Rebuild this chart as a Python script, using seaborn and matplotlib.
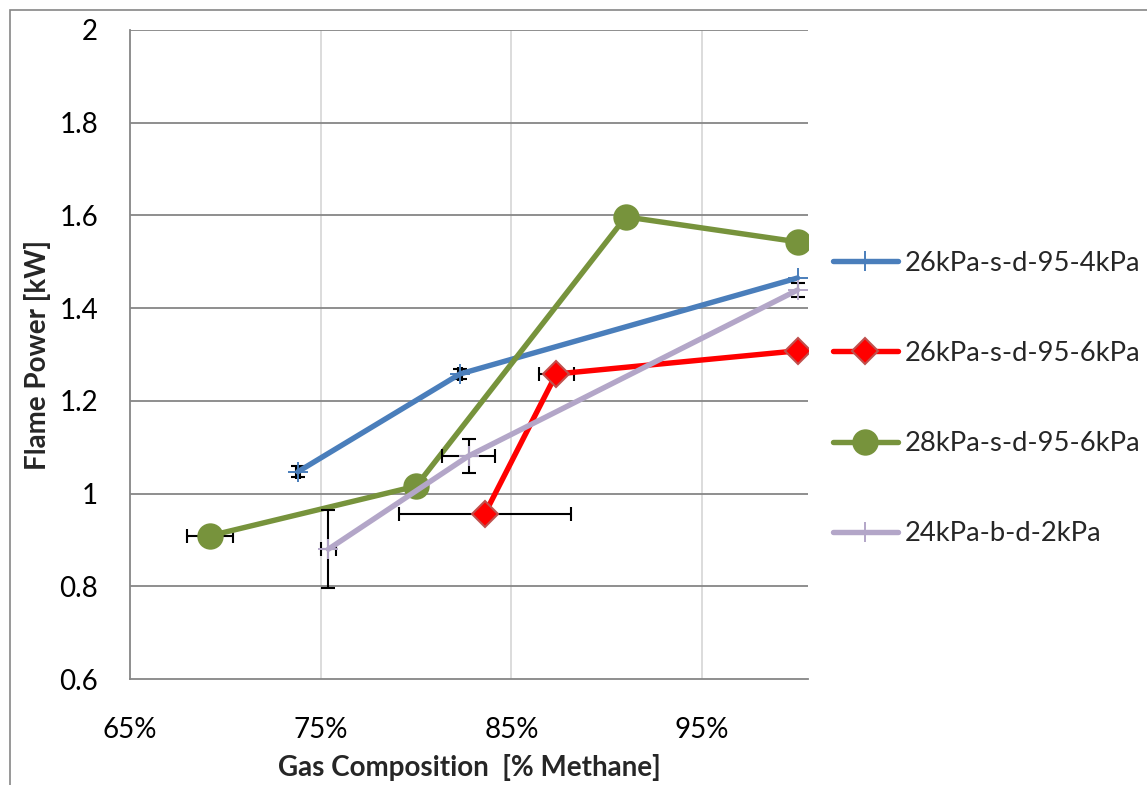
import numpy as np
import pandas as pd
import matplotlib
matplotlib.use("Agg")
import matplotlib.pyplot as plt
from matplotlib.patches import Rectangle
from matplotlib.ticker import FuncFormatter
import seaborn as sns

# ---- data ----
blue_x = [0.738, 0.823, 1.000]
blue_y = [1.047, 1.258, 1.465]
blue_xerr = [0.001, 0.001, 0.0]
blue_yerr = [0.012, 0.010, 0.0]

red_x = [0.836, 0.8735, 1.000]
red_y = [0.956, 1.258, 1.308]
red_xerr = [0.045, 0.0093, 0.0]
red_yerr = [0.0, 0.0, 0.0]

green_x = [0.692, 0.800, 0.910, 1.000]
green_y = [0.909, 1.016, 1.597, 1.543]
green_xerr = [0.012, 0.0, 0.0, 0.0]
green_yerr = [0.0, 0.0, 0.0, 0.0]

lav_x = [0.754, 0.8275, 1.000]
lav_y = [0.880, 1.081, 1.439]
lav_xerr = [0.004, 0.0137, 0.0]
lav_yerr = [0.084, 0.036, 0.015]

labels = ["26kPa-s-d-95-4kPa", "26kPa-s-d-95-6kPa", "28kPa-s-d-95-6kPa", "24kPa-b-d-2kPa"]
x_ticks = [0.65, 0.75, 0.85, 0.95]
y_ticks = [0.6, 0.8, 1.0, 1.2, 1.4, 1.6, 1.8, 2.0]

sns.set_theme(style="white")
plt.rcParams["font.family"] = ["Lato", "DejaVu Sans"]

fig = plt.figure(figsize=(11.47, 7.85), dpi=100)
ax = fig.add_axes([130/1147, 1-679/785, 678/1147, 649/785])

series = [
    (blue_x, blue_y, blue_xerr, blue_yerr, "#4A7EBB", dict(marker="+", markersize=14, markeredgewidth=1.4, markeredgecolor="#4A7EBB")),
    (red_x, red_y, red_xerr, red_yerr, "#FF0000", dict(marker="D", markersize=13, markeredgewidth=1.5, markeredgecolor="#C0504D", markerfacecolor="#FF0000")),
    (green_x, green_y, green_xerr, green_yerr, "#77933C", dict(marker="o", markersize=19, markeredgewidth=0, markerfacecolor="#77933C")),
    (lav_x, lav_y, lav_xerr, lav_yerr, "#B3A6C8", dict(marker="+", markersize=14, markeredgewidth=1.4, markeredgecolor="#B3A6C8")),
]

for i, (xs, ys, xe, ye, col, mk) in enumerate(series):
    df = pd.DataFrame({"x": xs, "y": ys})
    sns.lineplot(data=df, x="x", y="y", sort=False, ax=ax, color=col,
                 linewidth=3.9, label=labels[i], zorder=3 + i * 0.1,
                 solid_capstyle="round", **mk)
    xe_arr = np.array(xe)
    ye_arr = np.array(ye)
    mx = xe_arr > 0
    if mx.any():
        ax.errorbar(np.array(xs)[mx], np.array(ys)[mx], xerr=xe_arr[mx], fmt="none",
                    ecolor="black", elinewidth=1.5, capsize=5, capthick=1.5, zorder=2.9 + i * 0.1)
    my = ye_arr > 0
    if my.any():
        ax.errorbar(np.array(xs)[my], np.array(ys)[my], yerr=ye_arr[my], fmt="none",
                    ecolor="black", elinewidth=1.5, capsize=5, capthick=1.5, zorder=2.9 + i * 0.1)

ax.set_xlim(0.65, 1.0055)
ax.set_ylim(0.6, 2.0)
ax.set_xticks(x_ticks)
ax.set_yticks(y_ticks)
ax.xaxis.set_major_formatter(FuncFormatter(lambda v, p: f"{v*100:.0f}%"))
ax.yaxis.set_major_formatter(FuncFormatter(lambda v, p: f"{v:g}"))

ax.grid(False)
for yv in y_ticks[1:]:
    ax.axhline(yv, color="#868686", linewidth=1.3, zorder=1)
for xv in x_ticks[1:]:
    ax.axvline(xv, color="#D9D9D9", linewidth=1.3, zorder=0.5)

for s in ["top", "right"]:
    ax.spines[s].set_visible(False)
for s in ["left", "bottom"]:
    ax.spines[s].set_color("#868686")
    ax.spines[s].set_linewidth(1.3)
ax.tick_params(axis="both", which="major", direction="out", length=7, width=1.3,
               color="#868686", labelsize=20, colors="#868686", labelcolor="black")
ax.tick_params(axis="y", pad=16)
ax.tick_params(axis="x", pad=20)
ax.set_facecolor("white")

ax.set_xlabel("Gas Composition  [% Methane]", fontsize=20, fontweight="bold", labelpad=8)
ax.set_ylabel("Flame Power [kW]", fontsize=20, fontweight="bold", labelpad=6)

leg = ax.legend(loc="center left", bbox_to_anchor=(1.0206, 0.432), frameon=False,
                fontsize=19.7, handlelength=2.38, labelspacing=2.38, handletextpad=0.25,
                borderaxespad=0)

fig.patches.append(Rectangle((10/1147, -0.1), 1.2, 1.1 - 10/785, transform=fig.transFigure,
                             fill=False, edgecolor="#868686", linewidth=1.2))

fig.savefig("out.png", dpi=100, facecolor="white")
